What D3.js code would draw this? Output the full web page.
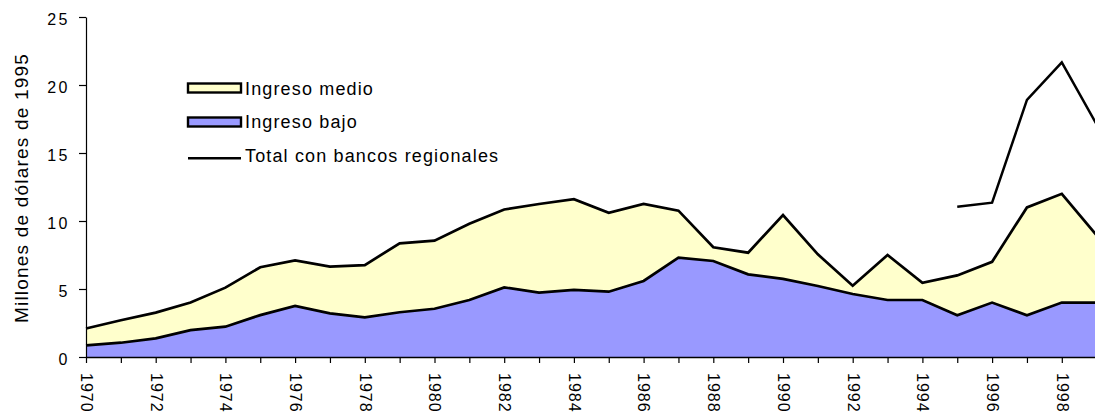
<!DOCTYPE html>
<html><head><meta charset="utf-8">
<script src="https://cdn.jsdelivr.net/npm/d3@7"></script>
<style>
html,body{margin:0;padding:0;background:#fff;}
svg{display:block;font-family:"Liberation Sans",Arial,sans-serif;}
</style></head>
<body><svg id="c" width="1095" height="415"></svg>
<script>
const years = d3.range(1970, 2000);
const ingresoBajo = [0.85,1.05,1.37,1.98,2.23,3.08,3.75,3.21,2.92,3.29,3.55,4.19,5.12,4.73,4.93,4.80,5.59,7.30,7.06,6.08,5.74,5.22,4.63,4.19,4.19,3.07,4.00,3.07,4.00,4.00];
const ingresoMedio = [1.25,1.65,1.89,2.02,2.87,3.52,3.35,3.44,3.84,5.07,5.00,5.61,5.73,6.52,6.67,5.80,5.66,3.46,1.01,1.59,4.70,2.33,0.61,3.31,1.26,2.93,3.00,7.93,8.00,4.95];
const totalRegionales = [null,null,null,null,null,null,null,null,null,null,null,null,null,null,null,null,null,null,null,null,null,null,null,null,null,11.05,11.35,18.90,21.67,17.10];
const yTicks = [0,5,10,15,20,25];
const yTitle = "Millones de dólares de 1995";
const legendLabels = ["Ingreso medio","Ingreso bajo","Total con bancos regionales"];
const colors = {bajo:"#9999FF", medio:"#FFFFCC"};

const svg = d3.select("#c");
const x = d3.scaleLinear().domain([1970,1999]).range([86, 86+29*34.85]);
const y = d3.scaleLinear().domain([0,25]).range([357,17]);

const rows = years.map((yr,i)=>({year:yr, bajo:ingresoBajo[i], medio:ingresoMedio[i]}));
const stack = d3.stack().keys(["bajo","medio"])(rows);

const area = d3.area().x(d=>x(d.data.year)).y0(d=>y(d[0])).y1(d=>y(d[1]));
const topLine = d3.line().x(d=>x(d.data.year)).y(d=>y(d[1]));

svg.selectAll("path.area").data(stack).join("path")
  .attr("class","area")
  .attr("d", area)
  .attr("fill", d=>colors[d.key]);

svg.selectAll("path.edge").data(stack).join("path")
  .attr("class","edge")
  .attr("d", topLine)
  .attr("fill","none").attr("stroke","#000").attr("stroke-width",2.7)
  .attr("stroke-linejoin","miter");

const totLine = d3.line().defined(d=>d.v!=null).x(d=>x(d.year)).y(d=>y(d.v));
svg.append("path")
  .datum(years.map((yr,i)=>({year:yr, v:totalRegionales[i]})))
  .attr("d", totLine)
  .attr("fill","none").attr("stroke","#000").attr("stroke-width",2.5);

// Y axis
const ya = svg.append("g").attr("transform","translate(86,0)")
  .call(d3.axisLeft(y).tickValues(yTicks).tickSize(7).tickSizeOuter(0).tickPadding(9));
ya.select(".domain").attr("stroke","#000").attr("stroke-width",1.2);
ya.selectAll(".tick line").attr("stroke","#000").attr("stroke-width",1.2);
ya.selectAll(".tick text").attr("font-size",16).attr("letter-spacing","2.5px")
  .attr("font-family","Liberation Sans, Arial, sans-serif").attr("fill","#000")
  .attr("dy","0.45em");

// X axis
const xa = svg.append("g").attr("transform","translate(0,357)")
  .call(d3.axisBottom(x).tickValues(years).tickSize(6).tickSizeOuter(0)
    .tickFormat(d=> d%2===0 ? String(d) : ""));
xa.select(".domain").attr("stroke","#000").attr("stroke-width",1.5);
xa.selectAll(".tick line").attr("stroke","#000").attr("stroke-width",1.2);
xa.selectAll(".tick text")
  .attr("transform","rotate(90)")
  .attr("x",16).attr("y",0).attr("dy","0.35em")
  .attr("text-anchor","start")
  .attr("font-size",16).attr("letter-spacing","1px")
  .attr("font-family","Liberation Sans, Arial, sans-serif").attr("fill","#000");

// Y title
svg.append("text")
  .attr("transform","translate(28,188) rotate(-90)")
  .attr("text-anchor","middle")
  .attr("font-size",19).attr("letter-spacing","1.2px")
  .attr("fill","#000")
  .text(yTitle);

// Legend
const lg = svg.append("g");
lg.append("rect").attr("x",188).attr("y",83.5).attr("width",53).attr("height",9)
  .attr("fill",colors.medio).attr("stroke","#000").attr("stroke-width",2.4);
lg.append("rect").attr("x",188).attr("y",117.5).attr("width",53).attr("height",9)
  .attr("fill",colors.bajo).attr("stroke","#000").attr("stroke-width",2.4);
lg.append("line").attr("x1",188).attr("x2",241).attr("y1",158.3).attr("y2",158.3)
  .attr("stroke","#000").attr("stroke-width",2.4);
const lgY = [94.5,128,162];
lg.selectAll("text.lt").data(legendLabels).join("text")
  .attr("class","lt")
  .attr("x",245).attr("y",(d,i)=>lgY[i])
  .attr("font-size",18).attr("letter-spacing","1.15px").attr("fill","#000")
  .text(d=>d);
</script></body></html>
